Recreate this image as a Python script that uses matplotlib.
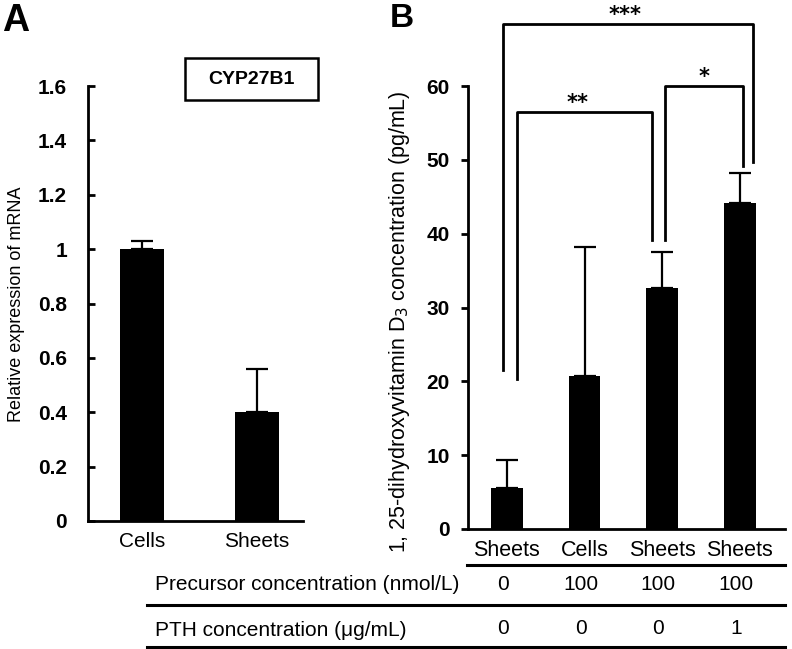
import matplotlib
matplotlib.use("Agg")
import matplotlib.pyplot as plt
from matplotlib.patches import Rectangle
from matplotlib.lines import Line2D
import matplotlib.transforms as mtransforms

plt.rcParams['font.family'] = ['Liberation Sans', 'DejaVu Sans']

# ---------------- data ----------------
a_categories = ["Cells", "Sheets"]
a_values = [1.0, 0.40]
a_err = [0.03, 0.16]
a_yticks = [0, 0.2, 0.4, 0.6, 0.8, 1.0, 1.2, 1.4, 1.6]
a_yticklabels = ["0", "0.2", "0.4", "0.6", "0.8", "1", "1.2", "1.4", "1.6"]

b_categories = ["Sheets", "Cells", "Sheets", "Sheets"]
b_values = [5.5, 20.7, 32.7, 44.1]
b_err = [3.9, 17.5, 4.8, 4.1]
b_yticks = [0, 10, 20, 30, 40, 50, 60]
precursor = ["0", "100", "100", "100"]
pth = ["0", "0", "0", "1"]

# significance brackets: (x_left, x_right, y_left_bottom, y_right_bottom, y_top, label, label_x, label_y)
brackets = [
    (-0.05, 3.17, 21.5, 49.7, 68.4, "***", 1.52, 68.8),
    (0.13, 1.87, 20.3, 39.2, 56.5, "**", 0.91, 56.9),
    (2.03, 3.04, 39.2, 49.1, 60.0, "*", 2.54, 60.4),
]

W, H = 792, 649
fig = plt.figure(figsize=(W / 100, H / 100), dpi=100)


def fx(x):
    return x / W


def fy(y):
    return 1 - y / H


LW = 2.0

# ---------------- Panel A ----------------
axA = fig.add_axes([fx(88), fy(521), (303 - 88) / W, (521 - 86) / H])
xa = list(range(len(a_categories)))
axA.bar(xa, a_values, width=0.39, color='black', zorder=2)
axA.errorbar(xa, a_values, yerr=[[0] * len(a_err), a_err], fmt='none',
             ecolor='black', elinewidth=1.6, capsize=8, capthick=1.6, zorder=1)
axA.set_xlim(-0.47, 1.40)
axA.set_ylim(0, 1.6)
axA.set_yticks(a_yticks)
axA.set_yticklabels(a_yticklabels, fontsize=15, fontweight='bold')
axA.set_xticks(xa)
axA.set_xticklabels(a_categories, fontsize=15)
axA.tick_params(axis='x', length=0, pad=8)
axA.tick_params(axis='y', direction='in', length=5, width=LW, pad=15)
for s in ['top', 'right']:
    axA.spines[s].set_visible(False)
for s in ['left', 'bottom']:
    axA.spines[s].set_linewidth(LW)

fig.text(fx(17), fy(304), "Relative expression of mRNA", rotation=90,
         ha='center', va='center', fontsize=13)

fig.text(fx(2), fy(31), "A", fontsize=27, fontweight='bold', ha='left', va='baseline')

fig.patches.append(Rectangle((fx(185), fy(100)), (318 - 185) / W, (100 - 58) / H,
                             transform=fig.transFigure, fill=False, edgecolor='black',
                             linewidth=1.8))
fig.text(fx(251.5), fy(79), "CYP27B1", ha='center', va='center', fontsize=14,
         fontweight='bold')

# ---------------- Panel B ----------------
axB = fig.add_axes([fx(468), fy(529), (785 - 468) / W, (529 - 86) / H])
xb = list(range(len(b_categories)))
axB.bar(xb, b_values, width=0.41, color='black', zorder=2)
axB.errorbar(xb, b_values, yerr=[[0] * len(b_err), b_err], fmt='none',
             ecolor='black', elinewidth=1.6, capsize=8, capthick=1.6, zorder=1)
axB.set_xlim(-0.50, 3.58)
axB.set_ylim(0, 60)
axB.set_yticks(b_yticks)
axB.set_yticklabels([str(v) for v in b_yticks], fontsize=15, fontweight='bold')
axB.set_xticks(xb)
axB.set_xticklabels(b_categories, fontsize=15.5)
axB.tick_params(axis='x', length=0, pad=8)
axB.tick_params(axis='y', direction='out', length=5, width=LW, pad=8)
for s in ['top', 'right']:
    axB.spines[s].set_visible(False)
for s in ['left', 'bottom']:
    axB.spines[s].set_linewidth(LW)

for xl, xr, yl, yr, yt, lab, lx, ly in brackets:
    axB.plot([xl, xl, xr, xr], [yl, yt, yt, yr], color='black', lw=2.0,
             clip_on=False, solid_joinstyle='round')
    axB.text(lx, ly, lab, ha='center', va='baseline', fontsize=15, fontweight='bold',
             family='DejaVu Sans', clip_on=False)

fig.text(fx(399), fy(322), "1, 25-dihydroxyvitamin D$_3$ concentration (pg/mL)",
         rotation=90, ha='center', va='center', fontsize=15.5)

fig.text(fx(390), fy(27), "B", fontsize=24, fontweight='bold', ha='left', va='baseline')

# ---------------- table below B ----------------
blend = mtransforms.blended_transform_factory(axB.transData, fig.transFigure)
for xi, v in zip(xb, precursor):
    axB.text(xi - 0.05, fy(585), v, transform=blend, ha='center', va='center', fontsize=15)
for xi, v in zip(xb, pth):
    axB.text(xi - 0.05, fy(628), v, transform=blend, ha='center', va='center', fontsize=15)

fig.text(fx(155), fy(585), "Precursor concentration (nmol/L)", ha='left', va='center',
         fontsize=15)
fig.text(fx(155), fy(630), "PTH concentration (\u03bcg/mL)", ha='left', va='center',
         fontsize=15)

for x0, y in [(467, 565), (147, 605), (147, 647)]:
    fig.add_artist(Line2D([fx(x0), fx(785)], [fy(y), fy(y)], transform=fig.transFigure,
                          color='black', lw=2.2))

fig.savefig("out.png", dpi=100)
